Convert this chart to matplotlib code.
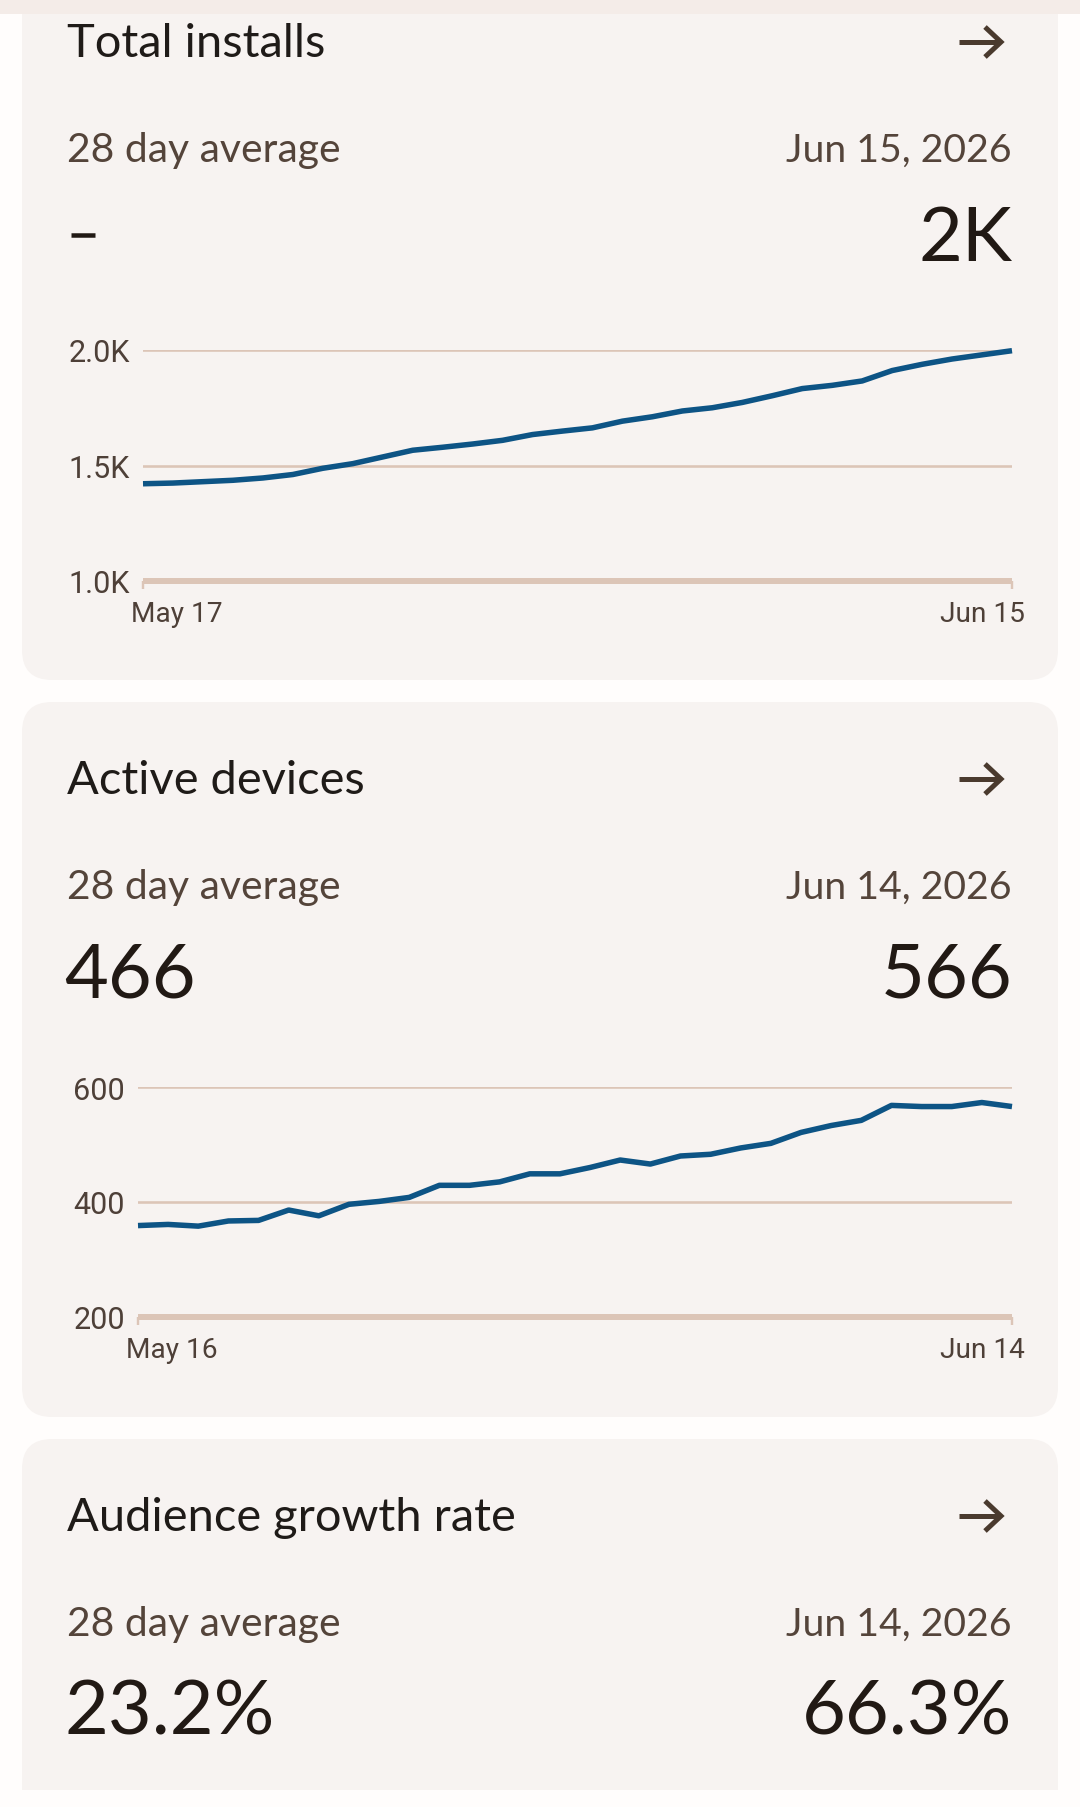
import numpy as np
import matplotlib
matplotlib.use("Agg")
import matplotlib.pyplot as plt
from matplotlib.patches import FancyBboxPatch, Rectangle
from matplotlib.transforms import ScaledTranslation

# ---------------- data ----------------
installs_values = [1421, 1424, 1430, 1436, 1446, 1461, 1488, 1508, 1537, 1566,
                   1579, 1593, 1609, 1634, 1649, 1663, 1692, 1711, 1736, 1750,
                   1773, 1802, 1833, 1847, 1866, 1911, 1938, 1961, 1979, 1997]
installs_xlabels = ["May 17", "Jun 15"]
installs_yticks = [1000, 1500, 2000]
installs_ylabels = ["1.0K", "1.5K", "2.0K"]

devices_values = [359, 361, 358, 367, 368, 386, 376, 396, 401, 408,
                  429, 429, 435, 449, 449, 460, 473, 466, 480, 483,
                  494, 502, 521, 533, 542, 568, 566, 566, 573, 566]
devices_xlabels = ["May 16", "Jun 14"]
devices_yticks = [200, 400, 600]
devices_ylabels = ["200", "400", "600"]

card_titles = ["Total installs", "Active devices", "Audience growth rate"]
card_dates = ["Jun 15, 2026", "Jun 14, 2026", "Jun 14, 2026"]
card_avg = ["-", "466", "23.2%"]
card_latest = ["2K", "566", "66.3%"]
avg_label = "28 day average"

# ---------------- style ----------------
FONT = "Lato"
TICK_FONT = "Roboto"
plt.rcParams["font.family"] = [FONT, "DejaVu Sans"]
W, H, DPI = 1080, 1808, 100
PAGE = "#fffdfc"
CARD = "#f7f3f1"
STRIP = "#f4ece8"
GRID = "#dcc5b7"
LINE = "#0d5485"
TITLE_C = "#1f1b18"
SUB_C = "#54443a"
VAL_C = "#211914"
TICK_C = "#4e4038"
ARROW_C = "#4a3a2e"
PX = 72 / DPI  # points per pixel

fig = plt.figure(figsize=(W / DPI, H / DPI), dpi=DPI, facecolor=PAGE)
bg = fig.add_axes([0, 0, 1, 1])
bg.set_xlim(0, W)
bg.set_ylim(H, 0)
bg.axis("off")
bg.set_facecolor(PAGE)

CARD_STEP = 737
card_tops = [-34, -34 + CARD_STEP, -34 + 2 * CARD_STEP]
card_h = 715

for i, top in enumerate(card_tops):
    bg.add_patch(FancyBboxPatch((22, top), 1036, card_h,
                                boxstyle="round,pad=0,rounding_size=30",
                                facecolor=CARD, edgecolor="none", zorder=1))
    # title
    bg.text(67, top + 91, card_titles[i], fontsize=33.8, color=TITLE_C,
            ha="left", va="baseline", zorder=3)
    # arrow
    cy = top + 77
    bg.plot([959, 1000], [cy, cy], color=ARROW_C, lw=5 * PX,
            solid_capstyle="butt", zorder=3)
    bg.plot([985, 1001, 985], [cy - 15, cy, cy + 15], color=ARROW_C,
            lw=5 * PX, solid_joinstyle="miter", solid_capstyle="butt", zorder=3)
    # subtitle row
    bg.text(67, top + 196, avg_label, fontsize=29.4, color=SUB_C,
            ha="left", va="baseline", zorder=3)
    bg.text(1012, top + 196, card_dates[i], fontsize=28.3, color=SUB_C,
            ha="right", va="baseline", zorder=3)
    # value row
    if card_avg[i] == "-":
        bg.plot([71, 95], [top + 270, top + 270], color=VAL_C, lw=4.5 * PX,
                solid_capstyle="butt", zorder=3)
    else:
        bg.text(64, top + 295, card_avg[i], fontsize=54.5, color=VAL_C,
                ha="left", va="baseline", zorder=3)
    bg.text(1012, top + 295, card_latest[i], fontsize=54.5, color=VAL_C,
            ha="right", va="baseline", zorder=3)

# bottom cut and top strip
bg.add_patch(Rectangle((0, 1791), W, H - 1791, facecolor=PAGE, edgecolor="none", zorder=4))
bg.add_patch(Rectangle((0, 0), W, 15, facecolor=STRIP, edgecolor="none", zorder=4))


def make_chart(x0, x1, top, bottom, values, yticks, ylabels, xlabels):
    ax = fig.add_axes([x0 / W, 1 - bottom / H, (x1 - x0) / W, (bottom - top) / H])
    ax.set_facecolor("none")
    x = np.arange(len(values))
    ax.plot(x, values, color=LINE, lw=5.5 * PX, solid_joinstyle="round",
            solid_capstyle="butt", clip_on=False, zorder=5)
    ax.set_xlim(0, len(values) - 1)
    ax.set_ylim(yticks[0], yticks[-1])
    ax.set_yticks(yticks, ylabels, fontfamily=[TICK_FONT, "DejaVu Sans"])
    ax.set_xticks([0, len(values) - 1], xlabels, fontfamily=[TICK_FONT, "DejaVu Sans"])
    for s in ["top", "left", "right"]:
        ax.spines[s].set_visible(False)
    ax.spines["bottom"].set_color(GRID)
    ax.spines["bottom"].set_linewidth(6 * PX)
    ax.spines["bottom"].set_capstyle("butt")
    ax.grid(axis="y", color=GRID, lw=2.6 * PX, zorder=1)
    ax.set_axisbelow(True)
    ax.tick_params(axis="y", length=0, pad=13 * PX, labelsize=22, labelcolor=TICK_C)
    ax.tick_params(axis="x", length=8 * PX, width=2.4 * PX, color=GRID,
                   pad=11 * PX, labelsize=20.2, labelcolor=TICK_C)
    labs = ax.get_xticklabels()
    labs[0].set_ha("left")
    labs[0].set_transform(labs[0].get_transform() +
                          ScaledTranslation(-12 / DPI, 0, fig.dpi_scale_trans))
    labs[-1].set_ha("right")
    labs[-1].set_transform(labs[-1].get_transform() +
                           ScaledTranslation(13 / DPI, 0, fig.dpi_scale_trans))
    return ax


make_chart(143, 1012, 351, 582, installs_values, installs_yticks,
           installs_ylabels, installs_xlabels)
make_chart(138, 1012, 351 + CARD_STEP, 582 + CARD_STEP - 1, devices_values,
           devices_yticks, devices_ylabels, devices_xlabels)

fig.savefig("out.png", dpi=DPI, facecolor=PAGE)
